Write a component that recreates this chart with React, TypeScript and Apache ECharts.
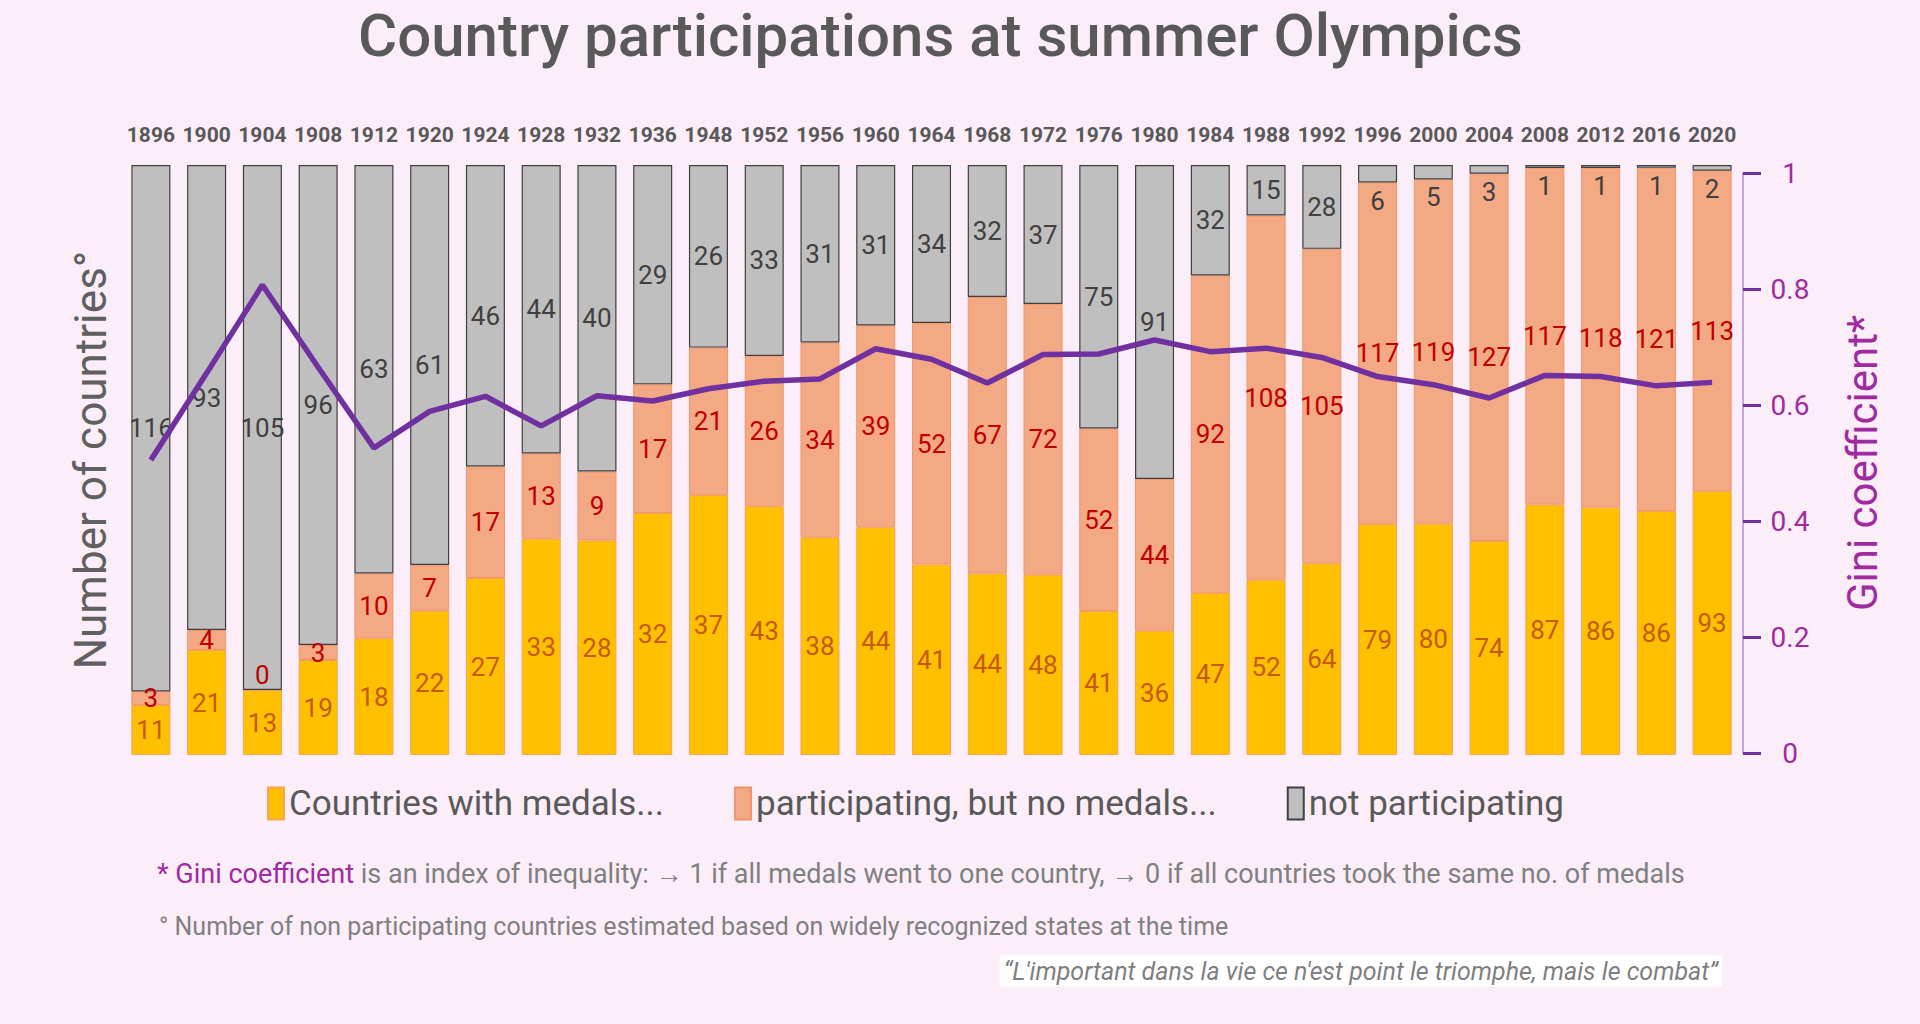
import React, { useEffect, useRef } from "react";
import * as echarts from "echarts";

const years = ["1896", "1900", "1904", "1908", "1912", "1920", "1924", "1928", "1932", "1936", "1948", "1952", "1956", "1960", "1964", "1968", "1972", "1976", "1980", "1984", "1988", "1992", "1996", "2000", "2004", "2008", "2012", "2016", "2020"];
const withMedals = [11, 21, 13, 19, 18, 22, 27, 33, 28, 32, 37, 43, 38, 44, 41, 44, 48, 41, 36, 47, 52, 64, 79, 80, 74, 87, 86, 86, 93];
const noMedals = [3, 4, 0, 3, 10, 7, 17, 13, 9, 17, 21, 26, 34, 39, 52, 67, 72, 52, 44, 92, 108, 105, 117, 119, 127, 117, 118, 121, 113];
const notParticipating = [116, 93, 105, 96, 63, 61, 46, 44, 40, 29, 26, 33, 31, 31, 34, 32, 37, 75, 91, 32, 15, 28, 6, 5, 3, 1, 1, 1, 2];
const gini = [0.505, 0.655, 0.807, 0.665, 0.526, 0.589, 0.615, 0.564, 0.616, 0.607, 0.628, 0.641, 0.645, 0.697, 0.679, 0.638, 0.687, 0.688, 0.712, 0.692, 0.698, 0.682, 0.649, 0.635, 0.612, 0.651, 0.649, 0.633, 0.639];

const FONT = "Roboto";

export default function App() {
  const ref = useRef<HTMLDivElement>(null);
  useEffect(() => {
    document.body.style.margin = "0";
    document.body.style.overflow = "hidden";
    const chart = echarts.init(ref.current!, null, { renderer: "svg" });
    const totals = years.map((_, i) => withMedals[i] + noMedals[i] + notParticipating[i]);
    const pct = (arr: number[]) => arr.map((v, i) => (v / totals[i]) * 100);
    const pMed = pct(withMedals);
    const pNo = pct(noMedals);
    const pNot = pct(notParticipating);

    const grid0 = { left: 123, right: 180, top: 165, bottom: 269 };
    const grid1 = { left: 123, right: 180, top: 173, bottom: 271 };

    const option: any = {
      animation: false,
      backgroundColor: "#fbeef8",
      title: {
        text: "Country participations at summer Olympics",
        left: 353,
        top: 0,
        textStyle: { fontFamily: FONT, fontSize: 60, fontWeight: 500, color: "#595959" },
      },
      legend: {
        data: ["Countries with medals...", "participating, but no medals...", "not participating"],
        left: 262,
        top: 781,
        itemWidth: 16,
        itemHeight: 32,
        itemGap: 70,
        icon: "rect",
        textStyle: { fontFamily: FONT, fontSize: 35, color: "#595959" },
      },
      grid: [grid0, grid1],
      xAxis: [
        {
          type: "category",
          data: years,
          gridIndex: 0,
          position: "top",
          axisLine: { show: false },
          axisTick: { show: false },
          axisLabel: { fontFamily: FONT, fontSize: 21, fontWeight: "bold", color: "#595959", margin: 20, interval: 0 },
        },
        {
          type: "category",
          data: years,
          gridIndex: 1,
          show: false,
        },
      ],
      yAxis: [
        {
          type: "value",
          gridIndex: 0,
          min: 0,
          max: 100,
          axisLine: { show: false },
          axisTick: { show: false },
          axisLabel: { show: false },
          splitLine: { show: false },
          name: "Number of countries°",
          nameLocation: "middle",
          nameRotate: 90,
          nameGap: 10,
          nameTextStyle: { fontFamily: FONT, fontSize: 44, color: "#606060" },
        },
        {
          type: "value",
          gridIndex: 1,
          position: "right",
          offset: 3,
          min: 0,
          max: 1,
          interval: 0.2,
          axisLine: { show: true, lineStyle: { color: "#b58ad6", width: 1.5 } },
          axisTick: { show: true, length: 18, lineStyle: { color: "#7030a0", width: 3 } },
          axisLabel: { fontFamily: FONT, fontSize: 28, color: "#a02ba0", margin: 47, align: "center" },
          splitLine: { show: false },
          name: "Gini coefficient*",
          nameLocation: "middle",
          nameRotate: 90,
          nameGap: 98,
          nameTextStyle: { fontFamily: FONT, fontSize: 42, color: "#a02ba0" },
        },
      ],
      series: [
        {
          name: "Countries with medals...",
          type: "bar",
          stack: "total",
          xAxisIndex: 0,
          yAxisIndex: 0,
          barWidth: "70%",
          data: pMed,
          itemStyle: { color: "#ffc000", borderColor: "#f5a25a", borderWidth: 1 },
          label: {
            show: true,
            position: "inside",
            fontFamily: FONT,
            fontSize: 26,
            color: "#c55a11",
            formatter: (p: any) => String(withMedals[p.dataIndex]),
          },
        },
        {
          name: "participating, but no medals...",
          type: "bar",
          stack: "total",
          xAxisIndex: 0,
          yAxisIndex: 0,
          data: pNo.map((v) => (v === 0 ? { value: v, label: { position: "top", distance: 2 } } : v)),
          itemStyle: { color: "#f3a983", borderColor: "#f0956a", borderWidth: 1 },
          label: {
            show: true,
            position: "inside",
            fontFamily: FONT,
            fontSize: 26,
            color: "#c00000",
            formatter: (p: any) => String(noMedals[p.dataIndex]),
          },
        },
        {
          name: "not participating",
          type: "bar",
          stack: "total",
          xAxisIndex: 0,
          yAxisIndex: 0,
          data: pNot.map((v) => (v < 5 ? { value: v, label: { position: "bottom" } } : v)),
          itemStyle: { color: "#bfbfbf", borderColor: "#404040", borderWidth: 1.2 },
          label: {
            show: true,
            position: "inside",
            fontFamily: FONT,
            fontSize: 26,
            color: "#404040",
            formatter: (p: any) => String(notParticipating[p.dataIndex]),
          },
        },
        {
          name: "Gini",
          type: "line",
          xAxisIndex: 1,
          yAxisIndex: 1,
          data: gini,
          symbol: "none",
          z: 5,
          lineStyle: { color: "#7030a0", width: 5.5 },
          itemStyle: { color: "#7030a0" },
        },
      ],
      graphic: [
        {
          type: "text",
          x: 157,
          y: 874,
          style: {
            text: "{p|* Gini coefficient} is an index of inequality: → 1 if all medals went to one country, → 0 if all countries took the same no. of medals",
            fontFamily: FONT,
            fontSize: 27,
            fill: "#808080",
            verticalAlign: "middle",
            rich: { p: { fill: "#a02ba0", fontFamily: FONT, fontSize: 27 } },
          },
        },
        {
          type: "text",
          x: 159,
          y: 926,
          style: {
            text: "° Number of non participating countries estimated based on widely recognized states at the time",
            fontFamily: FONT,
            fontSize: 25,
            fill: "#808080",
            verticalAlign: "middle",
          },
        },
        {
          type: "text",
          x: 1722,
          y: 971,
          style: {
            text: "“L'important dans la vie ce n'est point le triomphe, mais le combat”",
            fontFamily: FONT,
            fontStyle: "italic",
            fontSize: 25,
            fill: "#7f7f7f",
            align: "right",
            verticalAlign: "middle",
            backgroundColor: "#ffffff",
            padding: [3, 4, 3, 4],
          },
        },
      ],
    };
    chart.setOption(option);
    return () => chart.dispose();
  }, []);
  return <div ref={ref} style={{ width: 1920, height: 1024 }} />;
}
